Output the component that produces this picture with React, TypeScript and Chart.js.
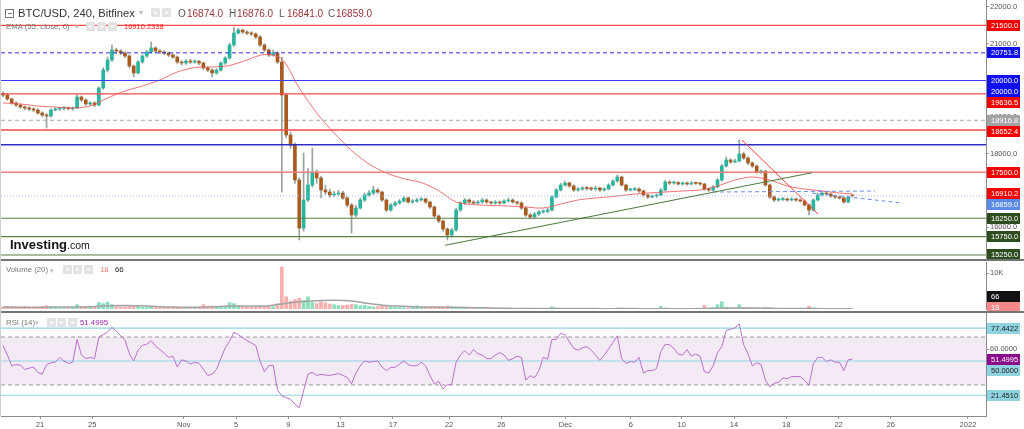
import React, { useEffect, useRef } from 'react';
import { Chart, registerables } from 'chart.js';

Chart.register(...registerables);

const FONT = '"Liberation Sans", Arial, Helvetica, sans-serif';

// ---------------- time axis (day slots on the chart's time line) ----------------
const X_MIN = 1.016;
const X_MAX = 76.38;
const FIRST_SLOT = 1.17;
const SLOT_STEP = 1 / 3; // one 8h candle
const tickSlots = [4, 8, 15, 19, 23, 27, 31, 35.3, 39.3, 44.2, 49.2, 53.1, 57.1, 61.1, 65.1, 69.1, 75];
const tickLabels = ['21', '25', 'Nov', '5', '9', '13', '17', '22', '26', 'Dec', '6', '10', '14', '18', '22', '26', '2022'];

// ---------------- price series (OHLC) ----------------
const opens = [
  19650, 19605, 19496, 19387, 19332, 19278, 19251, 19223, 19196, 19115,
  19060, 19033, 19196, 19223, 19240, 19251, 19230, 19251, 19550, 19469,
  19360, 19390, 19332, 19795, 20285, 20557, 20830, 20802, 20748, 20666,
  20394, 20204, 20503, 20666, 20775, 20884, 20802, 20775, 20748, 20693,
  20639, 20503, 20476, 20530, 20503, 20520, 20476, 20340, 20285, 20204,
  20285, 20476, 20612, 20966, 21292, 21374, 21320, 21292, 21265, 21183,
  20966, 20830, 20693, 20748, 20503, 19605, 18516, 18244, 17291, 15984,
  16747, 17155, 17509, 17345, 17019, 16964, 16883, 16910, 16937, 16801,
  16610, 16338, 16528, 16747, 16883, 16937, 17019, 16964, 16747, 16474,
  16610, 16665, 16719, 16801, 16692, 16719, 16747, 16774, 16692, 16556,
  16311, 16175, 15957, 15794, 15930, 16474, 16665, 16747, 16692, 16665,
  16692, 16747, 16692, 16665, 16692, 16665, 16719, 16747, 16692, 16665,
  16528, 16338, 16284, 16365, 16420, 16440, 16474, 16828, 17019, 17155,
  17209, 17128, 17019, 17046, 17073, 17060, 17046, 17073, 17019, 17046,
  17155, 17264, 17373, 17155, 17019, 17030, 17046, 16992, 16883, 16828,
  16855, 16883, 17019, 17237, 17209, 17220, 17182, 17209, 17182, 17209,
  17200, 17182, 17046, 17019, 17100, 17291, 17672, 17835, 17781, 17808,
  18000, 17890, 17754, 17672, 17509, 17530, 17155, 16828, 16747, 16760,
  16774, 16747, 16774, 16747, 16720, 16610, 16474, 16747, 16883, 16937,
  16910, 16855, 16828, 16801, 16692, 16874,
];
const highs = [
  19700, 19640, 19520, 19420, 19360, 19310, 19290, 19260, 19230, 19150,
  19100, 19230, 19260, 19270, 19290, 19280, 19280, 19620, 19580, 19500,
  19420, 19420, 19830, 20350, 20640, 20966, 20880, 20840, 20780, 20700,
  20420, 20540, 20700, 20820, 21047, 20920, 20840, 20810, 20780, 20730,
  20670, 20540, 20570, 20580, 20560, 20550, 20500, 20380, 20320, 20320,
  20510, 20650, 21020, 21456, 21420, 21400, 21350, 21330, 21300, 21220,
  21000, 20860, 20830, 20780, 20640, 19650, 18600, 18300, 17350, 18026,
  17600, 18162, 17560, 17400, 17150, 17050, 16980, 17010, 16990, 16840,
  16650, 16600, 16800, 16940, 17000, 17128, 17060, 16990, 16780, 16650,
  16710, 16760, 16840, 16830, 16760, 16790, 16820, 16800, 16720, 16590,
  16340, 16200, 15990, 15980, 16520, 16700, 16790, 16780, 16730, 16730,
  16790, 16780, 16720, 16730, 16720, 16760, 16800, 16780, 16720, 16700,
  16560, 16380, 16410, 16460, 16480, 16520, 16870, 17060, 17200, 17260,
  17240, 17160, 17090, 17110, 17110, 17100, 17120, 17100, 17080, 17190,
  17300, 17427, 17400, 17180, 17070, 17090, 17080, 17020, 16910, 16890,
  16920, 17060, 17280, 17270, 17260, 17250, 17240, 17240, 17250, 17240,
  17230, 17200, 17080, 17140, 17330, 17720, 17920, 17870, 17860, 18380,
  18050, 17920, 17790, 17700, 17570, 17560, 17180, 16860, 16800, 16810,
  16800, 16810, 16800, 16780, 16750, 16640, 16780, 16930, 16980, 16960,
  16940, 16880, 16860, 16830, 16860, 16876,
];
const lows = [
  19560, 19460, 19350, 19290, 19240, 19200, 19180, 19150, 19080, 19010,
  18706, 19000, 19170, 19180, 19200, 19200, 19190, 19230, 19430, 19320,
  19330, 19290, 19310, 19760, 20230, 20520, 20740, 20700, 20620, 20350,
  20095, 20180, 20470, 20630, 20740, 20760, 20730, 20700, 20650, 20600,
  20460, 20420, 20440, 20460, 20470, 20430, 20300, 20240, 20095, 20170,
  20250, 20440, 20580, 20930, 21260, 21280, 21250, 21220, 21140, 20920,
  20780, 20650, 20660, 20460, 16960, 18450, 18150, 17200, 15658, 15900,
  16700, 17100, 17200, 16800, 16900, 16820, 16840, 16870, 16760, 16560,
  15849, 16280, 16500, 16700, 16850, 16900, 16920, 16700, 16430, 16440,
  16580, 16630, 16690, 16660, 16660, 16690, 16720, 16650, 16520, 16270,
  16130, 15900, 15658, 15740, 15900, 16440, 16620, 16650, 16620, 16630,
  16660, 16650, 16630, 16630, 16630, 16640, 16690, 16660, 16620, 16490,
  16300, 16240, 16250, 16330, 16390, 16400, 16450, 16800, 16990, 17120,
  17090, 16980, 16990, 17010, 17020, 17000, 17010, 16980, 16990, 17020,
  17120, 17230, 17120, 16980, 16990, 17000, 16950, 16840, 16790, 16800,
  16820, 16860, 16990, 17170, 17180, 17150, 17150, 17150, 17160, 17170,
  17150, 17010, 16980, 16990, 17080, 17260, 17640, 17740, 17760, 17780,
  17850, 17710, 17630, 17470, 17470, 17120, 16790, 16700, 16710, 16730,
  16710, 16720, 16710, 16690, 16580, 16338, 16440, 16720, 16860, 16870,
  16820, 16790, 16770, 16660, 16670, 16841,
];
const closes = [
  19605, 19496, 19387, 19332, 19278, 19251, 19223, 19196, 19115, 19060,
  19033, 19196, 19223, 19240, 19251, 19230, 19251, 19550, 19469, 19360,
  19390, 19332, 19795, 20285, 20557, 20830, 20802, 20748, 20666, 20394,
  20204, 20503, 20666, 20775, 20884, 20802, 20775, 20748, 20693, 20639,
  20503, 20476, 20530, 20503, 20520, 20476, 20340, 20285, 20204, 20285,
  20476, 20612, 20966, 21292, 21374, 21320, 21292, 21265, 21183, 20966,
  20830, 20693, 20748, 20503, 19605, 18516, 18244, 17291, 15984, 16747,
  17155, 17509, 17345, 17019, 16964, 16883, 16910, 16937, 16801, 16610,
  16338, 16528, 16747, 16883, 16937, 17019, 16964, 16747, 16474, 16610,
  16665, 16719, 16801, 16692, 16719, 16747, 16774, 16692, 16556, 16311,
  16175, 15957, 15794, 15930, 16474, 16665, 16747, 16692, 16665, 16692,
  16747, 16692, 16665, 16692, 16665, 16719, 16747, 16692, 16665, 16528,
  16338, 16284, 16365, 16420, 16440, 16474, 16828, 17019, 17155, 17209,
  17128, 17019, 17046, 17073, 17060, 17046, 17073, 17019, 17046, 17155,
  17264, 17373, 17155, 17019, 17030, 17046, 16992, 16883, 16828, 16855,
  16883, 17019, 17237, 17209, 17220, 17182, 17209, 17182, 17209, 17200,
  17182, 17046, 17019, 17100, 17291, 17672, 17835, 17781, 17808, 18000,
  17890, 17754, 17672, 17509, 17530, 17155, 16828, 16747, 16760, 16774,
  16747, 16774, 16747, 16720, 16610, 16474, 16747, 16883, 16937, 16910,
  16855, 16828, 16801, 16692, 16828, 16859,
];

// EMA(55) read every 4th candle, last value at the final candle
const EMA_EVERY = 4;
const emaValues = [
  19387, 19360, 19305, 19278, 19251, 19305, 19523, 19714, 19850, 20013,
  20231, 20353, 20367, 20408, 20557, 20707, 20584, 19795, 19115, 18570,
  18094, 17727, 17482, 17327, 17223, 16999, 16692, 16624, 16597, 16583,
  16556, 16528, 16637, 16747, 16801, 16842, 16896, 16937, 16964, 16992,
  17019, 17128, 17291, 17373, 17291, 17128, 17046, 16992, 16937, 16910.2338,
];

// ---------------- volume ----------------
const volumes = [
  520, 610, 480, 390, 450, 700, 380, 420, 560, 640,
  950, 620, 380, 300, 350, 420, 390, 1200, 700, 520,
  480, 560, 1800, 1500, 1900, 1200, 650, 540, 600, 900,
  820, 760, 520, 480, 700, 450, 380, 420, 400, 520,
  600, 450, 380, 350, 420, 460, 1200, 700, 820, 560,
  640, 800, 1800, 1500, 900, 600, 520, 480, 560, 900,
  800, 700, 650, 1500, 11700, 3400, 2200, 2600, 3000, 2400,
  3400, 1800, 1500, 2000, 1700, 1400, 1200, 900, 1000, 1100,
  1300, 1200, 900, 1000, 700, 600, 650, 1000, 800, 600,
  500, 450, 400, 380, 420, 900, 450, 400, 500, 600,
  600, 550, 800, 500, 400, 300, 200, 150, 120, 140,
  120, 100, 90, 110, 100, 90, 80, 100, 90, 150,
  250, 200, 120, 100, 90, 110, 600, 300, 150, 120,
  100, 90, 80, 85, 75, 70, 80, 85, 75, 90,
  120, 300, 250, 120, 90, 80, 75, 90, 85, 80,
  75, 700, 300, 120, 90, 80, 70, 75, 70, 65,
  80, 1000, 300, 400, 1200, 2000, 500, 300, 250, 1200,
  400, 250, 200, 300, 200, 500, 350, 150, 100, 90,
  80, 75, 70, 80, 200, 800, 300, 150, 100, 80,
  70, 60, 65, 80, 55, 18,
];
const volumeMA = [
  550, 520, 500, 540, 560, 620, 900, 1000, 880, 620,
  520, 480, 600, 800, 850, 780, 1400, 2000, 2300, 2400,
  2200, 1500, 950, 750, 560, 520, 480, 380, 260, 180,
  150, 140, 160, 130, 110, 100, 110, 90, 100, 100,
  110, 200, 300, 280, 200, 130, 110, 100, 80, 66,
];

// ---------------- RSI(14) ----------------
const rsiValues = [
  63, 55, 46, 47, 46.5, 43, 44, 45, 40.5, 39,
  47, 48.5, 49, 53, 50, 48, 49, 68, 55, 52,
  53, 52, 70, 72, 74, 78, 75, 71, 67.5, 56,
  50, 59, 63, 64, 67, 62.5, 59.5, 56.5, 53, 54,
  45, 51, 50, 47.5, 49, 48, 43, 38, 39, 43,
  52, 61, 66.5, 74, 72, 69.5, 67, 65, 63, 50,
  41, 46, 46.5, 26, 21, 19.5, 18, 14, 11, 25.3,
  39, 40.5, 38, 38.8, 38.3, 38, 38.8, 39.5, 38, 36.4,
  31, 40, 46, 50, 49, 49.5, 50, 45, 42, 44.7,
  44.7, 47.5, 50, 47, 46, 46, 49, 46, 38, 31,
  33, 26.7, 30, 30.8, 49, 55, 58.6, 55, 59.5, 56,
  55, 52, 52, 55, 57, 55, 50.5, 52, 54, 53,
  34, 37.8, 36, 42, 53, 51.5, 68, 68, 73, 72,
  66, 60.5, 59, 61, 62, 59, 55, 50.5, 55, 60,
  65.5, 71, 52, 48, 49.5, 49, 53, 40, 42, 42,
  43.5, 58, 64, 63.5, 60.5, 55.5, 55, 59.5, 54, 55.8,
  54, 41, 40, 46, 57, 62, 75.5, 76.5, 77.5, 81,
  63.5, 56, 46, 48.5, 47, 34, 28.5, 31.5, 32.2, 36,
  35.2, 37, 37, 37, 34, 30, 47.5, 53, 53, 49.5,
  51, 49, 49, 42, 51, 51.4995,
];
const rsiLevels = [77.4422, 50, 21.451];
const rsiBandTop = 70;
const rsiBandBottom = 30;

// ---------------- drawn levels & trend lines ----------------
const redLevels = [21500, 19636.5, 18652.4];
const pinkLevels = [17500];
const blueLevels = [20000];
const navyLevels = [18250];
const blueDashedLevels = [20751.8];
const grayDashedLevels = [18916.8];
const greenLevels = [16250, 15750, 15250];
const emaLast = 16910.2338;
const greenTrend = [[34.99, 15514], [63.07, 17490]];
const redTrend = [[57.71, 18380], [63.53, 16366]];
const blueDashA = [[55.49, 16964], [67.89, 16991]];
const blueDashB = [[63.07, 16937], [69.95, 16665]];

const P_MIN = 15168;
const P_MAX = 22190.5;

// ---------------- helpers ----------------
const slotOf = (i: number) => FIRST_SLOT + i * SLOT_STEP;
const emaIndex = (k: number) => (k === emaValues.length - 1 ? closes.length - 1 : k * EMA_EVERY);

const hLine = (v: number, color: string, w = 1, dash: number[] = []) => ({
  type: 'line',
  data: [{ x: X_MIN, y: v }, { x: X_MAX, y: v }],
  borderColor: color,
  borderWidth: w,
  borderDash: dash,
  pointRadius: 0,
  fill: false,
  order: 1,
});
const segLine = (pts: number[][], color: string, w = 1, dash: number[] = []) => ({
  type: 'line',
  data: pts.map((p) => ({ x: p[0], y: p[1] })),
  borderColor: color,
  borderWidth: w,
  borderDash: dash,
  pointRadius: 0,
  fill: false,
  order: 0,
});

type Box = { value: number; text: string; bg: string; fg: string };
function boxPlugin(boxes: Box[], bottomGap: number) {
  return {
    id: 'valueBoxes',
    afterDraw(chart: any) {
      const ys = chart.scales.y;
      const ctx = chart.ctx;
      const h = 11;
      const items = boxes.map((b, k) => ({ ...b, k, p: ys.getPixelForValue(b.value) }));
      items.sort((a, b) => a.p - b.p || a.k - b.k);
      for (let i = 1; i < items.length; i++) {
        if (items[i].p < items[i - 1].p + h) items[i].p = items[i - 1].p + h;
      }
      const n = items.length;
      const limit = chart.chartArea.bottom - bottomGap;
      if (n && items[n - 1].p > limit) {
        items[n - 1].p = limit;
        for (let i = n - 2; i >= 0; i--) {
          if (items[i].p > items[i + 1].p - h) items[i].p = items[i + 1].p - h;
        }
      }
      ctx.save();
      ctx.font = `7.5px ${FONT}`;
      ctx.textBaseline = 'middle';
      ctx.textAlign = 'left';
      for (const it of items) {
        const x = ys.left + 1;
        const top = Math.round(it.p - h / 2);
        ctx.fillStyle = it.bg;
        ctx.fillRect(x, top, 33, h);
        ctx.fillStyle = it.fg;
        ctx.fillText(it.text, x + 4, top + h / 2 + 0.5);
      }
      ctx.restore();
    },
  };
}

const xScale = (show: boolean) => ({
  type: 'linear',
  min: X_MIN,
  max: X_MAX,
  offset: false,
  display: show,
  afterBuildTicks: (s: any) => {
    s.ticks = tickSlots.map((v) => ({ value: v }));
  },
  afterFit: (s: any) => {
    s.height = show ? 13 : 0;
    s.paddingLeft = 0;
    s.paddingRight = 0;
  },
  ticks: {
    autoSkip: false,
    maxRotation: 0,
    padding: 1,
    color: '#555',
    font: { size: 7.5, family: FONT },
    callback: (_v: any, i: number) => tickLabels[i] ?? '',
  },
  grid: { display: true, drawOnChartArea: false, tickLength: 3, color: '#999' },
  border: { display: true, color: '#8a8a8a' },
});

const yScale = (min: number, max: number, ticks: number[], fmt: (v: number) => string) => ({
  position: 'right',
  min,
  max,
  afterBuildTicks: (s: any) => {
    s.ticks = ticks.map((v) => ({ value: v }));
  },
  afterFit: (s: any) => {
    s.width = 38;
    s.paddingTop = 0;
    s.paddingBottom = 0;
  },
  ticks: {
    padding: 1,
    color: '#555',
    font: { size: 7.5, family: FONT },
    callback: (v: any) => fmt(Number(v)),
  },
  grid: { display: true, drawOnChartArea: false, tickLength: 3, color: '#999' },
  border: { display: true, color: '#8a8a8a' },
});

const baseOptions = {
  animation: false,
  responsive: false,
  maintainAspectRatio: false,
  devicePixelRatio: 1,
  events: [],
  plugins: { legend: { display: false }, tooltip: { enabled: false } },
};

const UP = '#27b59d';
const DOWN = '#a85a1f';

function buildPrice(canvas: HTMLCanvasElement) {
  const up = closes.map((c, i) => c >= opens[i]);
  const datasets: any[] = [];
  redLevels.forEach((v) => datasets.push(hLine(v, '#ff4a4a', 1.3)));
  pinkLevels.forEach((v) => datasets.push(hLine(v, '#f47f7f', 1.6)));
  blueLevels.forEach((v) => datasets.push(hLine(v, '#3b3bf2', 1.2)));
  navyLevels.forEach((v) => datasets.push(hLine(v, '#2f2fbf', 1.5)));
  blueDashedLevels.forEach((v) => datasets.push(hLine(v, '#2a2ae8', 1, [4, 3])));
  grayDashedLevels.forEach((v) => datasets.push(hLine(v, '#a8a8a8', 1, [4, 3])));
  greenLevels.forEach((v) => datasets.push(hLine(v, '#5b7d44', 1.2)));
  datasets.push(hLine(closes[closes.length - 1], '#a9bdf5', 1, [1, 2]));
  datasets.push(segLine(greenTrend, '#4a7a3a', 1));
  datasets.push(segLine(redTrend, '#ff3b3b', 1));
  datasets.push(segLine(blueDashA, '#6b8cf0', 1, [4, 3]));
  datasets.push(segLine(blueDashB, '#6b8cf0', 1, [4, 3]));
  datasets.push({
    type: 'line',
    data: emaValues.map((v, k) => ({ x: slotOf(emaIndex(k)), y: v })),
    borderColor: 'rgba(240,90,90,0.85)',
    borderWidth: 1,
    pointRadius: 0,
    tension: 0.3,
    fill: false,
    order: 1,
  });
  datasets.push({
    type: 'bar',
    data: closes.map((_c, i) => ({ x: slotOf(i), y: [lows[i], highs[i]] })),
    backgroundColor: '#98a39c',
    barThickness: 1,
    grouped: false,
    order: 3,
  });
  datasets.push({
    type: 'bar',
    data: closes.map((c, i) => ({ x: slotOf(i), y: [opens[i], c] })),
    backgroundColor: up.map((u) => (u ? UP : DOWN)),
    barThickness: 3,
    minBarLength: 1,
    grouped: false,
    order: 2,
  });

  const boxes: Box[] = [
    ...[21500].map((v) => ({ value: v, text: v.toFixed(1), bg: '#f50000', fg: '#fff' })),
    ...blueDashedLevels.map((v) => ({ value: v, text: v.toFixed(1), bg: '#1010ee', fg: '#fff' })),
    ...blueLevels.map((v) => ({ value: v, text: v.toFixed(1), bg: '#1010ee', fg: '#fff' })),
    ...blueLevels.map((v) => ({ value: v, text: v.toFixed(1), bg: '#1010ee', fg: '#fff' })),
    ...[19636.5, 18652.4].map((v) => ({ value: v, text: v.toFixed(1), bg: '#f50000', fg: '#fff' })),
    ...grayDashedLevels.map((v) => ({ value: v, text: v.toFixed(1), bg: '#a3a3a3', fg: '#fff' })),
    ...pinkLevels.map((v) => ({ value: v, text: v.toFixed(1), bg: '#f50000', fg: '#fff' })),
    { value: emaLast, text: emaLast.toFixed(1), bg: '#f50000', fg: '#fff' },
    { value: closes[closes.length - 1], text: closes[closes.length - 1].toFixed(1), bg: '#5b8be6', fg: '#fff' },
    ...greenLevels.map((v) => ({ value: v, text: v.toFixed(1), bg: '#2e4d1e', fg: '#fff' })),
  ];

  return new Chart(canvas, {
    type: 'bar',
    data: { datasets },
    options: {
      ...baseOptions,
      layout: { padding: { left: 1, right: 0, top: 0, bottom: 1 } },
      scales: {
        x: xScale(false),
        y: yScale(P_MIN, P_MAX, [16000, 17000, 18000, 19000, 20000, 21000, 22000], (v) => v.toFixed(1)),
      },
    } as any,
    plugins: [boxPlugin(boxes, 3)],
  } as any);
}

function buildVolume(canvas: HTMLCanvasElement) {
  const up = closes.map((c, i) => c >= opens[i]);
  const lastVol = volumes[volumes.length - 1];
  const lastMA = volumeMA[volumeMA.length - 1];
  return new Chart(canvas, {
    type: 'bar',
    data: {
      datasets: [
        {
          type: 'line',
          data: volumeMA.map((v, k) => ({ x: slotOf(emaIndex(k)), y: v })),
          borderColor: '#a3a3a3',
          borderWidth: 1.5,
          pointRadius: 0,
          tension: 0.3,
          order: 0,
        },
        {
          type: 'bar',
          data: volumes.map((v, i) => ({ x: slotOf(i), y: v })),
          backgroundColor: up.map((u) => (u ? 'rgba(60,200,140,0.6)' : 'rgba(240,110,110,0.55)')),
          barThickness: 3,
          grouped: false,
          order: 1,
        },
      ],
    },
    options: {
      ...baseOptions,
      layout: { padding: { left: 1, right: 0, top: 1, bottom: 2 } },
      scales: {
        x: xScale(false),
        y: yScale(0, 13056, [10000], () => '10K'),
      },
    } as any,
    plugins: [
      boxPlugin(
        [
          { value: lastMA, text: String(lastMA), bg: '#111', fg: '#fff' },
          { value: lastVol, text: String(lastVol), bg: '#f58a8a', fg: '#fff' },
        ],
        2,
      ),
    ],
  } as any);
}

function buildRsi(canvas: HTMLCanvasElement) {
  const datasets: any[] = [
    {
      ...hLine(rsiBandTop, '#9a9a9a', 1, [4, 3]),
      fill: { value: rsiBandBottom },
      backgroundColor: 'rgba(155,80,175,0.12)',
      order: 3,
    },
    { ...hLine(rsiBandBottom, '#9a9a9a', 1, [4, 3]), order: 3 },
    ...rsiLevels.map((v) => ({ ...hLine(v, '#8fd6e3', 1.2), order: 2 })),
    {
      type: 'line',
      data: rsiValues.map((v, i) => ({ x: slotOf(i), y: v })),
      borderColor: '#bb6fcc',
      borderWidth: 1,
      pointRadius: 0,
      fill: false,
      order: 0,
    },
  ];
  const rsiLast = rsiValues[rsiValues.length - 1];
  const boxes: Box[] = [
    { value: rsiLevels[0], text: rsiLevels[0].toFixed(4), bg: '#8fd3e0', fg: '#222' },
    { value: rsiLast, text: rsiLast.toFixed(4), bg: '#8a0a8a', fg: '#fff' },
    { value: rsiLevels[1], text: rsiLevels[1].toFixed(4), bg: '#8fd3e0', fg: '#222' },
    { value: rsiLevels[2], text: rsiLevels[2].toFixed(4), bg: '#8fd3e0', fg: '#222' },
  ];
  return new Chart(canvas, {
    type: 'line',
    data: { datasets },
    options: {
      ...baseOptions,
      layout: { padding: { left: 1, right: 0, top: 0, bottom: 0 } },
      scales: {
        x: xScale(true),
        y: yScale(4.17, 90, [60], (v) => v.toFixed(4)),
      },
    } as any,
    plugins: [boxPlugin(boxes, 3)],
  } as any);
}

// ---------------- HTML overlay pieces ----------------
const Txt = ({ x, base, size, color, weight, children }: any) => (
  <div
    style={{
      position: 'absolute',
      left: x,
      top: base - size * 0.847,
      fontSize: size,
      lineHeight: 1,
      color,
      fontWeight: weight || 'normal',
      whiteSpace: 'nowrap',
    }}
  >
    {children}
  </div>
);
const Icon = ({ x, y }: any) => (
  <div
    style={{
      position: 'absolute',
      left: x,
      top: y,
      width: 9,
      height: 9,
      background: '#e3e3e3',
      borderRadius: 1,
    }}
  >
    <div style={{ position: 'absolute', left: 3, top: 3, width: 3, height: 3, background: '#fafafa', borderRadius: 2 }} />
  </div>
);

export default function App() {
  const pRef = useRef<HTMLCanvasElement>(null);
  const vRef = useRef<HTMLCanvasElement>(null);
  const rRef = useRef<HTMLCanvasElement>(null);

  useEffect(() => {
    const charts = [buildPrice(pRef.current!), buildVolume(vRef.current!), buildRsi(rRef.current!)];
    return () => charts.forEach((c) => c.destroy());
  }, []);

  const last = closes.length - 1;
  const valColor = '#9b3535';
  return (
    <div
      style={{
        position: 'fixed',
        left: 0,
        top: 0,
        width: 1024,
        height: 429,
        background: '#fff',
        overflow: 'hidden',
        fontFamily: FONT,
      }}
    >
      <canvas ref={pRef} width={1024} height={259} style={{ position: 'absolute', left: 0, top: 0 }} />
      <canvas ref={vRef} width={1024} height={50} style={{ position: 'absolute', left: 0, top: 261 }} />
      <canvas ref={rRef} width={1024} height={116} style={{ position: 'absolute', left: 0, top: 313 }} />

      <div style={{ position: 'absolute', left: 0, top: 259, width: 1024, height: 2, background: '#747474' }} />
      <div style={{ position: 'absolute', left: 0, top: 311, width: 1024, height: 2, background: '#747474' }} />
      <div style={{ position: 'absolute', left: 0, top: 0, width: 1, height: 416, background: '#d0d0d0' }} />

      {/* header */}
      <div style={{ position: 'absolute', left: 5, top: 9, width: 7, height: 7, border: '1px solid #777' }}>
        <div style={{ position: 'absolute', left: 1.5, top: 3, width: 4, height: 1, background: '#777' }} />
      </div>
      <Txt x={18} base={17.3} size={11.2} color="#333">BTC/USD, 240, Bitfinex</Txt>
      <Txt x={139} base={16} size={8} color="#bbb">▾</Txt>
      <Icon x={151} y={8} />
      <Icon x={162} y={8} />
      <Txt x={178} base={17.3} size={10} color="#555">O</Txt>
      <Txt x={187} base={17.3} size={10} color={valColor}>{opens[last].toFixed(1)}</Txt>
      <Txt x={229} base={17.3} size={10} color="#555">H</Txt>
      <Txt x={237} base={17.3} size={10} color={valColor}>{highs[last].toFixed(1)}</Txt>
      <Txt x={279} base={17.3} size={10} color="#555">L</Txt>
      <Txt x={287} base={17.3} size={10} color={valColor}>{lows[last].toFixed(1)}</Txt>
      <Txt x={328} base={17.3} size={10} color="#555">C</Txt>
      <Txt x={336} base={17.3} size={10} color={valColor}>{closes[last].toFixed(1)}</Txt>

      <Txt x={6} base={29.5} size={7.8} color="#777">EMA (55, close, 0)</Txt>
      <Txt x={75} base={29} size={7} color="#bbb">▾</Txt>
      <Icon x={86} y={22} />
      <Icon x={97} y={22} />
      <Icon x={108} y={22} />
      <Txt x={124} base={29.5} size={7.5} color="#ff1a1a">{emaLast.toFixed(4)}</Txt>

      {/* volume legend */}
      <Txt x={6} base={273} size={7.8} color="#777">Volume (20)</Txt>
      <Txt x={50} base={272.5} size={7} color="#bbb">▾</Txt>
      <Icon x={63} y={265} />
      <Icon x={73} y={265} />
      <Icon x={84} y={265} />
      <Txt x={100} base={273} size={7.8} color="#f47c7c">{volumes[volumes.length - 1]}</Txt>
      <Txt x={115} base={273} size={7.8} color="#222">{volumeMA[volumeMA.length - 1]}</Txt>

      {/* rsi legend */}
      <Txt x={6} base={325.5} size={7.8} color="#777">RSI (14)</Txt>
      <Txt x={35} base={325} size={7} color="#bbb">▾</Txt>
      <Icon x={47} y={318} />
      <Icon x={57} y={318} />
      <Icon x={68} y={318} />
      <Txt x={80} base={325.5} size={7.8} color="#9c27b0">{rsiValues[rsiValues.length - 1].toFixed(4)}</Txt>

      {/* watermark */}
      <div style={{ position: 'absolute', left: 10, top: 236, whiteSpace: 'nowrap', lineHeight: 1, color: '#141414' }}>
        <span style={{ fontSize: 13, fontWeight: 'bold' }}>Investing</span>
        <span style={{ fontSize: 10.5 }}>.com</span>
      </div>
    </div>
  );
}
